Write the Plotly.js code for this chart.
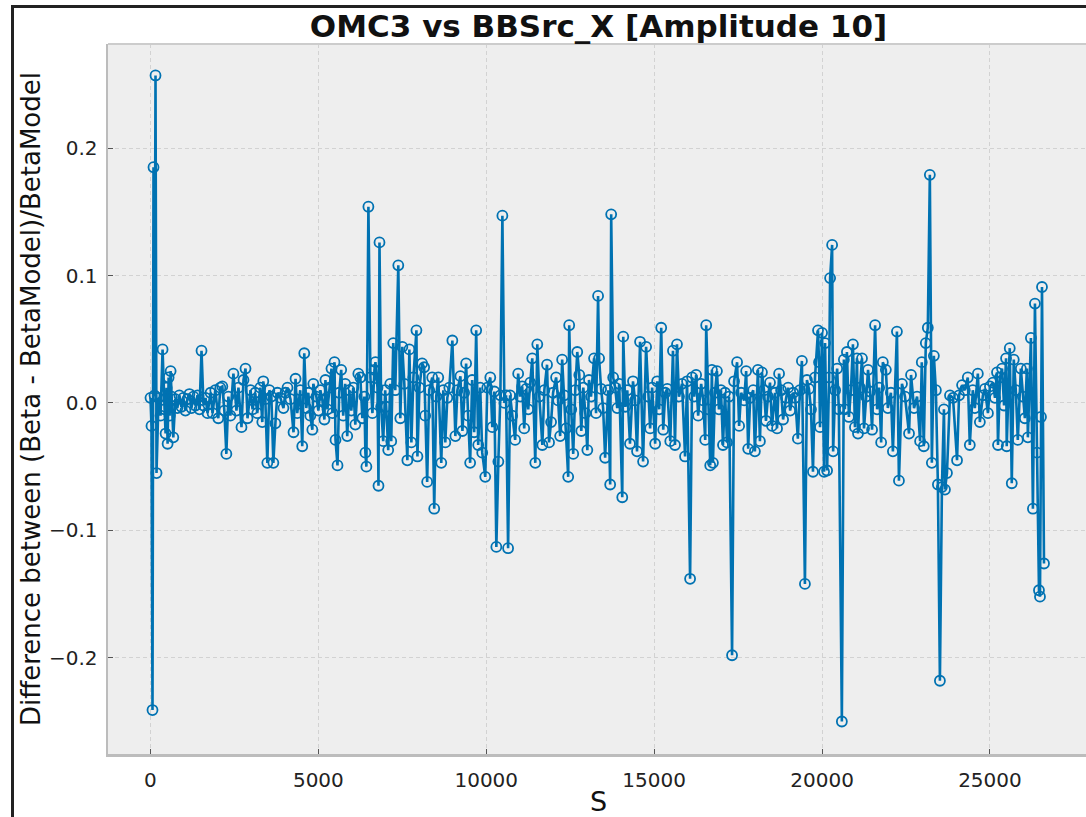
<!DOCTYPE html>
<html>
<head>
<meta charset="utf-8">
<script src="https://cdn.plot.ly/plotly-3.0.1.min.js"></script>
<style>
  html, body { margin: 0; padding: 0; width: 1086px; height: 817px; overflow: hidden; background: #ffffff; }
  #wrap { position: relative; width: 1086px; height: 817px; overflow: hidden; }
  #chart { position: absolute; left: 0; top: 0; width: 1096px; height: 817px; }
  #frameTop { position: absolute; left: 11px; top: 5px; width: 1080px; height: 3px; background: #222222; }
  #frameLeft { position: absolute; left: 11px; top: 5px; width: 3px; height: 820px; background: #222222; }
</style>
</head>
<body>
<div id="wrap">
  <div id="chart"></div>
  <div id="frameTop"></div>
  <div id="frameLeft"></div>
</div>
<script>
// Longitudinal position S
const sPos = [
  0, 30, 60, 90, 120, 150, 180, 240, 300, 360, 420, 450, 480, 510, 540, 570, 600, 630, 680, 740,
  800, 860, 920, 980, 1040, 1100, 1160, 1220, 1280, 1340, 1400, 1460, 1520, 1580, 1640, 1700, 1790, 1850, 1930, 2020,
  2080, 2140, 2200, 2260, 2320, 2380, 2470, 2560, 2620, 2710, 2770, 2830, 2890, 2980, 3040, 3120, 3180, 3270, 3330, 3360,
  3420, 3480, 3540, 3600, 3660, 3720, 3780, 3870, 3960, 4020, 4080, 4170, 4260, 4320, 4370, 4460, 4520, 4580, 4640, 4700,
  4760, 4820, 4850, 4940, 5000, 5060, 5120, 5180, 5210, 5270, 5330, 5390, 5420, 5480, 5510, 5570, 5620, 5680, 5740, 5800,
  5860, 5920, 5980, 6040, 6100, 6190, 6250, 6310, 6370, 6400, 6430, 6490, 6550, 6610, 6670, 6700, 6760, 6790, 6820, 6870,
  6930, 6990, 7020, 7080, 7140, 7170, 7230, 7290, 7380, 7440, 7500, 7560, 7650, 7710, 7770, 7830, 7920, 7950, 8010, 8090,
  8150, 8180, 8240, 8300, 8390, 8450, 8510, 8570, 8660, 8720, 8780, 8840, 8900, 8990, 9080, 9140, 9230, 9290, 9340, 9400,
  9460, 9520, 9580, 9640, 9700, 9760, 9820, 9880, 9970, 10030, 10120, 10180, 10240, 10300, 10360, 10420, 10480, 10540, 10590, 10650,
  10710, 10770, 10860, 10950, 11010, 11070, 11130, 11190, 11250, 11310, 11370, 11460, 11520, 11580, 11670, 11730, 11810, 11870, 11930, 11990,
  12080, 12140, 12200, 12260, 12320, 12380, 12440, 12470, 12530, 12590, 12650, 12710, 12770, 12830, 12890, 12950, 13010, 13060, 13120, 13210,
  13270, 13330, 13360, 13420, 13480, 13540, 13630, 13690, 13720, 13780, 13840, 13900, 13960, 14050, 14080, 14140, 14200, 14280, 14370, 14430,
  14490, 14580, 14670, 14760, 14820, 14880, 14940, 15030, 15090, 15150, 15210, 15270, 15330, 15390, 15480, 15560, 15620, 15680, 15740, 15830,
  15920, 15980, 16070, 16130, 16190, 16250, 16310, 16400, 16460, 16520, 16550, 16610, 16670, 16720, 16750, 16810, 16870, 16930, 16990, 17050,
  17110, 17170, 17230, 17320, 17380, 17470, 17530, 17590, 17680, 17740, 17800, 17860, 17950, 18000, 18090, 18150, 18210, 18270, 18330, 18390,
  18450, 18510, 18600, 18660, 18720, 18780, 18840, 18930, 18990, 19050, 19140, 19200, 19280, 19340, 19400, 19490, 19550, 19610, 19670, 19730,
  19790, 19880, 19910, 19940, 20000, 20060, 20090, 20150, 20210, 20240, 20300, 20330, 20390, 20450, 20500, 20590, 20650, 20680, 20740, 20800,
  20860, 20920, 20980, 21040, 21070, 21130, 21190, 21250, 21310, 21370, 21430, 21490, 21580, 21640, 21700, 21760, 21810, 21900, 21960, 22050,
  22110, 22230, 22290, 22380, 22470, 22590, 22650, 22740, 22830, 22920, 22970, 23030, 23090, 23150, 23210, 23270, 23330, 23390, 23450, 23510,
  23570, 23630, 23660, 23720, 23810, 23900, 24020, 24080, 24170, 24250, 24340, 24400, 24490, 24550, 24640, 24700, 24790, 24850, 24940, 25000,
  25090, 25150, 25210, 25240, 25300, 25360, 25420, 25480, 25500, 25590, 25650, 25710, 25770, 25830, 25920, 25980, 26040, 26100, 26130, 26220,
  26280, 26340, 26400, 26460, 26490, 26520, 26550, 26610
];
// (Beta - BetaModel)/BetaModel
const betaBeat = [
  0.004, -0.018, -0.241, 0.185, 0.006, 0.257, -0.055, 0.004, -0.010, 0.042, -0.005, -0.024, 0.012, -0.032, 0.020, -0.010, 0.025, 0.005, -0.027, 0.003,
  -0.004, 0.006, -0.003, 0.004, -0.006, 0.003, 0.007, -0.004, 0.005, -0.002, 0.006, -0.005, 0.041, -0.002, 0.004, -0.008, 0.008, -0.008, 0.010, -0.012,
  0.012, 0.013, -0.006, -0.040, 0.005, -0.010, 0.023, -0.006, 0.012, -0.019, 0.018, 0.027, -0.012, 0.010, -0.005, 0.008, -0.008, 0.012, -0.015, 0.017,
  0.003, -0.047, 0.010, 0.005, -0.047, -0.016, 0.008, 0.004, -0.004, 0.008, 0.012, 0.003, -0.023, 0.019, -0.008, 0.010, -0.034, 0.039, -0.004, 0.008,
  -0.010, -0.021, 0.015, 0.005, -0.006, 0.010, 0.002, -0.013, 0.018, -0.005, 0.012, 0.027, -0.008, 0.032, -0.029, -0.049, 0.008, 0.026, -0.010, 0.015,
  -0.026, 0.010, -0.006, 0.012, -0.017, 0.023, 0.020, -0.012, 0.005, -0.039, -0.050, 0.154, 0.020, -0.008, 0.026, 0.032, 0.012, -0.065, 0.126, -0.003,
  -0.030, 0.010, -0.003, -0.037, 0.015, -0.030, 0.047, 0.010, 0.108, -0.012, 0.044, 0.015, -0.045, 0.042, -0.031, 0.020, 0.057, -0.042, 0.012, 0.031,
  0.028, -0.010, -0.062, 0.010, 0.020, -0.083, 0.005, 0.020, -0.047, 0.010, -0.031, 0.004, 0.012, 0.049, -0.026, 0.010, 0.021, -0.022, 0.008, 0.031,
  -0.010, -0.047, 0.018, -0.023, 0.057, -0.033, 0.012, -0.039, -0.058, 0.012, 0.020, -0.019, 0.009, -0.113, -0.046, 0.006, 0.147, 0.000, 0.006, -0.114,
  0.006, -0.010, -0.029, 0.023, 0.005, 0.013, -0.020, 0.011, -0.005, 0.016, 0.035, -0.047, 0.046, 0.005, -0.033, 0.010, 0.030, -0.031, -0.015, 0.008,
  0.020, 0.002, -0.026, 0.034, 0.006, -0.020, -0.058, 0.061, -0.005, -0.040, 0.010, 0.040, 0.022, -0.022, 0.012, -0.008, -0.037, 0.018, 0.005, 0.035,
  -0.008, 0.084, 0.035, 0.011, -0.004, -0.043, 0.010, -0.064, 0.148, 0.020, 0.012, -0.004, 0.015, -0.074, 0.052, -0.003, 0.010, -0.032, 0.017, 0.002,
  -0.038, 0.048, -0.046, 0.044, 0.005, -0.020, 0.012, -0.032, 0.017, -0.005, 0.059, -0.021, 0.008, 0.011, -0.030, 0.041, -0.033, 0.046, 0.005, 0.015,
  -0.042, 0.017, -0.138, 0.020, 0.005, 0.022, -0.010, 0.015, 0.002, -0.029, 0.061, -0.005, -0.049, 0.026, -0.047, 0.008, 0.025, -0.005, 0.010, -0.033,
  0.008, -0.031, 0.005, -0.198, 0.017, 0.032, -0.018, 0.008, 0.002, 0.025, -0.036, 0.004, 0.010, -0.038, 0.026, -0.030, 0.024, 0.010, -0.014, 0.005,
  0.016, -0.018, 0.008, -0.020, 0.023, 0.010, -0.013, 0.004, 0.012, -0.006, 0.008, 0.004, -0.028, 0.010, 0.033, -0.142, 0.018, 0.011, -0.005, -0.054,
  0.020, 0.057, 0.032, -0.019, 0.055, -0.054, 0.047, -0.053, 0.020, 0.098, 0.124, -0.038, 0.010, 0.027, -0.005, -0.250, 0.034, -0.005, 0.040, -0.011,
  0.010, 0.046, -0.019, 0.035, -0.024, 0.012, 0.035, -0.020, 0.005, 0.026, 0.009, -0.021, 0.061, -0.005, 0.012, -0.031, 0.032, 0.026, -0.004, 0.008,
  -0.038, 0.056, -0.061, 0.015, 0.005, -0.024, 0.022, -0.004, 0.005, -0.030, 0.032, -0.034, 0.047, 0.059, 0.179, -0.047, 0.037, 0.010, -0.064, -0.218,
  -0.066, -0.005, -0.068, -0.055, 0.006, 0.004, -0.045, 0.006, 0.014, 0.010, 0.020, -0.033, 0.010, -0.004, 0.023, -0.015, 0.006, 0.011, -0.008, 0.013,
  0.016, 0.004, 0.024, -0.033, 0.020, 0.027, -0.002, 0.035, -0.034, 0.043, -0.063, 0.034, 0.010, -0.029, 0.027, 0.005, -0.012, 0.027, -0.027, 0.051,
  -0.083, 0.078, -0.039, -0.147, -0.152, -0.011, 0.091, -0.126
];
const xTickVals = [0, 5000, 10000, 15000, 20000, 25000];
const xTickText = ['0', '5000', '10000', '15000', '20000', '25000'];
const yTickVals = [-0.2, -0.1, 0.0, 0.1, 0.2];
const yTickText = ['\u22120.2', '\u22120.1', '0.0', '0.1', '0.2'];

const titleText = 'OMC3 vs BBSrc_X [Amplitude 10]';
const xLabel = 'S';
const yLabel = 'Difference between (Beta - BetaModel)/BetaModel';

const lineColor = '#0072B2';
const font = 'DejaVu Sans, sans-serif';

const trace = {
  type: 'scatter',
  mode: 'lines+markers',
  x: sPos,
  y: betaBeat,
  line: { color: lineColor, width: 2.6 },
  marker: { symbol: 'circle-open', size: 10, color: lineColor, line: { color: lineColor, width: 1.8 } },
  hoverinfo: 'x+y',
  showlegend: false
};

const layout = {
  width: 1096,
  height: 817,
  paper_bgcolor: '#ffffff',
  plot_bgcolor: '#eeeeee',
  margin: { l: 108, r: 7, t: 44, b: 63 },
  font: { family: font, color: '#222222', size: 20 },
  title: {
    text: titleText,
    font: { family: font, size: 31, weight: 'bold', color: '#111111' },
    x: 0.5, xref: 'paper', xanchor: 'center',
    y: 1 - 26 / 817, yref: 'container', yanchor: 'middle'
  },
  xaxis: {
    range: [-1265, 27950],
    tickvals: xTickVals,
    ticktext: xTickText,
    ticks: 'inside', ticklen: 5, tickwidth: 1, tickcolor: '#555555',
    showline: true, linecolor: '#bcbcbc', linewidth: 2.5,
    showgrid: true, gridcolor: '#d2d2d2', gridwidth: 1, griddash: '4px,3px',
    zeroline: false,
    tickfont: { family: font, size: 20, color: '#222222' },
    ticklabelstandoff: 6,
    title: { text: xLabel, font: { family: font, size: 27, color: '#111111' }, standoff: 6 },
    automargin: false
  },
  yaxis: {
    range: [-0.2755, 0.2817],
    tickvals: yTickVals,
    ticktext: yTickText,
    ticks: 'inside', ticklen: 5, tickwidth: 1, tickcolor: '#555555',
    showline: true, linecolor: '#bcbcbc', linewidth: 2.5,
    showgrid: true, gridcolor: '#d2d2d2', gridwidth: 1, griddash: '4px,3px',
    zeroline: false,
    tickfont: { family: font, size: 20, color: '#222222' },
    ticklabelstandoff: 4,
    title: { text: yLabel, font: { family: font, size: 26, color: '#111111' }, standoff: 1 },
    automargin: false
  },
  shapes: [
    { type: 'line', xref: 'paper', yref: 'paper', x0: 0, x1: 1, y0: 1, y1: 1,
      line: { color: '#cccccc', width: 2 }, layer: 'above' }
  ]
};

Plotly.newPlot('chart', [trace], layout, { displayModeBar: false, staticPlot: true });
</script>
</body>
</html>
